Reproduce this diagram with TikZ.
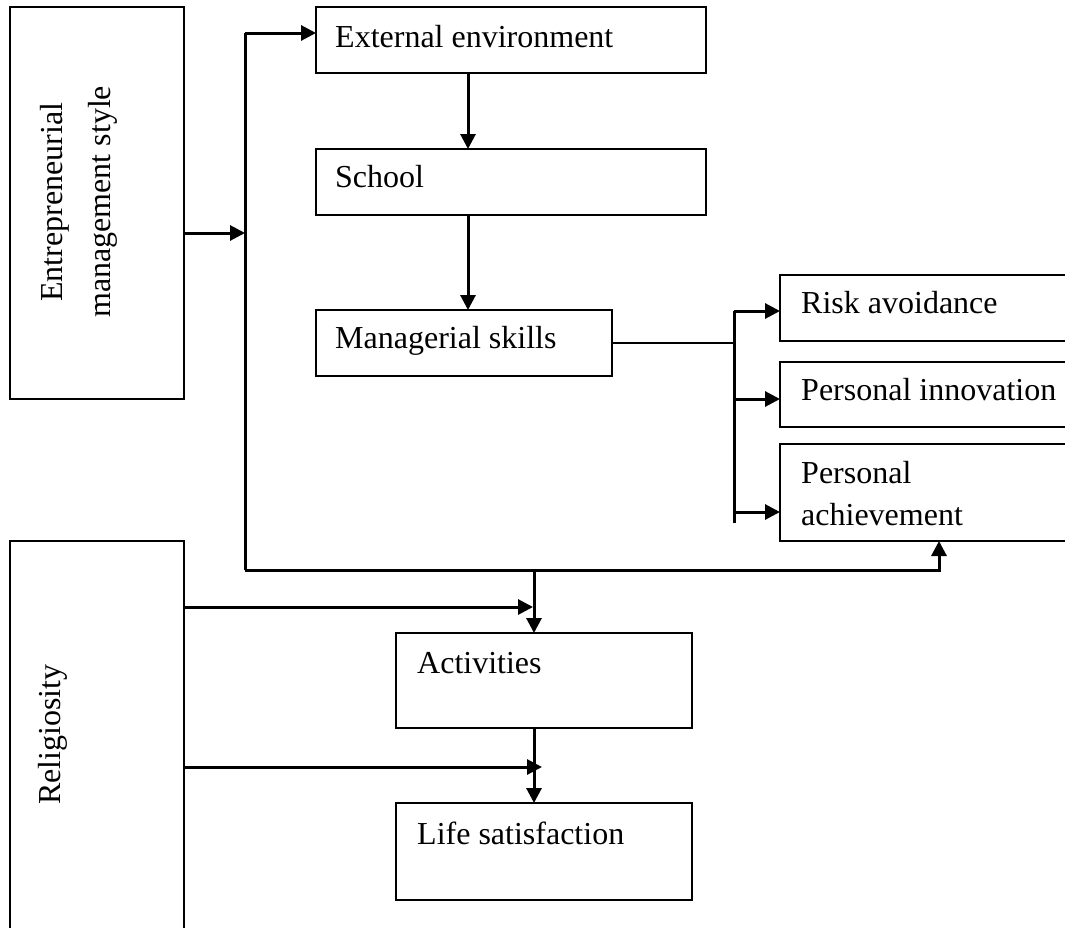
\documentclass[tikz,border=0pt]{standalone}
\usepackage{fontspec}
\setmainfont{Liberation Serif}
\usetikzlibrary{arrows.meta,calc}
\begin{document}
\begin{tikzpicture}[x=1pt,y=-1pt,
  box/.style={draw, line width=1.9pt, inner sep=0pt, outer sep=0pt, anchor=north west},
  lbl/.style={anchor=base west, inner sep=0pt, font=\fontsize{32}{42}\selectfont},
  conn/.style={line width=3pt},
  thinconn/.style={line width=2pt},
  arr/.style={conn, -{Triangle[length=15pt,width=15pt]}},
]
\useasboundingbox (0,0) rectangle (1065,927);

% boxes
\node[box, minimum width=174, minimum height=392] (ems) at (10,7) {};
\node[box, minimum width=390, minimum height=66] (ext) at (316,7) {};
\node[box, minimum width=390, minimum height=66] (sch) at (316,149) {};
\node[box, minimum width=296, minimum height=66] (mgr) at (316,310) {};
\node[box, minimum width=300, minimum height=66] (risk) at (780,275) {};
\node[box, minimum width=300, minimum height=65] (inno) at (780,362) {};
\node[box, minimum width=300, minimum height=97] (ach) at (780,444) {};
\node[box, minimum width=174, minimum height=400] (rel) at (10,541) {};
\node[box, minimum width=296, minimum height=95] (act) at (396,633) {};
\node[box, minimum width=296, minimum height=97] (life) at (396,803) {};

% texts
\node[lbl, rotate=90] at (62,302) {Entrepreneurial};
\node[lbl, rotate=90] at (110,318) {management style};
\node[lbl, rotate=90] at (60,805) {Religiosity};
\node[lbl] at (335,47) {External environment};
\node[lbl] at (335,187) {School};
\node[lbl] at (335,348) {Managerial skills};
\node[lbl] at (801,313) {Risk avoidance};
\node[lbl] at (801,400) {Personal innovation};
\node[lbl] at (801,483) {Personal};
\node[lbl] at (801,525) {achievement};
\node[lbl] at (417,673) {Activities};
\node[lbl] at (417,844) {Life satisfaction};

% helper coordinates
\coordinate (vtop) at (245,33);
\coordinate (vmid) at (245,233);
\coordinate (vbot) at (245,570);
\coordinate (mx) at (468,0);
\coordinate (bx) at (734,0);
\coordinate (btop) at (734,311);
\coordinate (b2) at (734,399);
\coordinate (b3) at (734,512);
\coordinate (bbot) at (734,523);
\coordinate (ax) at (939,0);
\coordinate (cx) at (534,0);
\coordinate (r1) at (533,607);
\coordinate (r2) at (542,767);

% connectors
\draw[conn] (vtop) -- (vbot);
\draw[arr] (vtop) -- (vtop -| ext.west);
\draw[arr] (vmid -| ems.east) -- (vmid);
\draw[arr] (mx |- ext.south) -- (mx |- sch.north);
\draw[arr] (mx |- sch.south) -- (mx |- mgr.north);
\draw[thinconn] (mgr.east) -- (mgr.east -| bx);
\draw[conn] (btop) -- (bbot);
\draw[arr] (btop) -- (btop -| risk.west);
\draw[arr] (b2) -- (b2 -| inno.west);
\draw[arr] (b3) -- (b3 -| ach.west);
\draw[arr] (vbot) -- (vbot -| ax) -- (ax |- ach.south);
\draw[arr] (cx |- vbot) -- (cx |- act.north);
\draw[arr] (r1 -| rel.east) -- (r1);
\draw[arr] (cx |- act.south) -- (cx |- life.north);
\draw[arr] (r2 -| rel.east) -- (r2);
\end{tikzpicture}
\end{document}
